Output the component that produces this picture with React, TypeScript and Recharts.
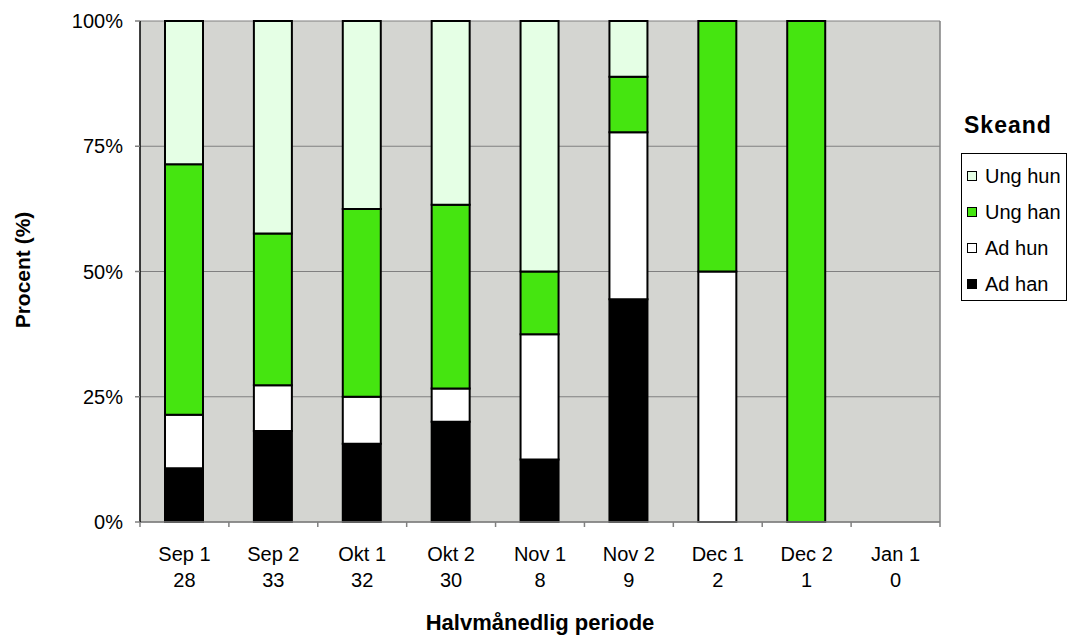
import React from 'react';
import { BarChart, Bar, XAxis, YAxis, CartesianGrid, Label } from 'recharts';

// ---- data ----
const categories = ['Sep 1', 'Sep 2', 'Okt 1', 'Okt 2', 'Nov 1', 'Nov 2', 'Dec 1', 'Dec 2', 'Jan 1'];
const counts = [28, 33, 32, 30, 8, 9, 2, 1, 0];
const adHan = [3, 6, 5, 6, 1, 4, 0, 0, 0];
const adHun = [3, 3, 3, 2, 2, 3, 1, 0, 0];
const ungHan = [14, 10, 12, 11, 1, 1, 1, 1, 0];
const ungHun = [8, 14, 12, 11, 4, 1, 0, 0, 0];
const yTicks = [0, 0.25, 0.5, 0.75, 1];

const seriesKeys = ['adHan', 'adHun', 'ungHan', 'ungHun'];
const seriesNames = ['Ad han', 'Ad hun', 'Ung han', 'Ung hun'];
const seriesColors = ['#000000', '#FFFFFF', '#45E510', '#E5FFE5'];

const data = categories.map((c, i) => ({
  name: c,
  adHan: adHan[i],
  adHun: adHun[i],
  ungHan: ungHan[i],
  ungHun: ungHun[i],
}));

// ---- layout ----
const W = 1071;
const H = 636;
const LEFT_W = 140;
const RIGHT_W = 131;
const PLOT_W = W - LEFT_W - RIGHT_W;
const FONT = '"Liberation Sans", Arial, sans-serif';

const XTick = (props: any) => {
  const { x, y, payload, index } = props;
  const band = PLOT_W / categories.length;
  return (
    <g>
      <line x1={x - band / 2} y1={y} x2={x - band / 2} y2={y + 5} stroke="#808080" strokeWidth={1.5} />
      {index === categories.length - 1 && (
        <line x1={x + band / 2} y1={y} x2={x + band / 2} y2={y + 5} stroke="#808080" strokeWidth={1.5} />
      )}
      <text x={x} y={y + 39} textAnchor="middle" fontFamily={FONT} fontSize={20} fill="#000">
        {payload.value}
      </text>
      <text x={x} y={y + 65} textAnchor="middle" fontFamily={FONT} fontSize={20} fill="#000">
        {counts[index]}
      </text>
    </g>
  );
};

const LegendBox = () => {
  const order = [3, 2, 1, 0];
  return (
    <div style={{ position: 'absolute', left: 0, top: 0, pointerEvents: 'none' }}>
      <div
        style={{
          position: 'absolute',
          left: 964,
          top: 110,
          fontFamily: FONT,
          fontWeight: 'bold',
          fontSize: 23,
          letterSpacing: 1,
          lineHeight: '30px',
          whiteSpace: 'nowrap',
        }}
      >
        Skeand
      </div>
      <div
        style={{
          position: 'absolute',
          left: 961,
          top: 153,
          width: 104,
          height: 146,
          border: '1px solid #000',
          background: '#fff',
        }}
      >
        {order.map((si, k) => (
          <div
            key={seriesKeys[si]}
            style={{
              position: 'absolute',
              left: 5,
              top: 9 + k * 36,
              height: 26,
              display: 'flex',
              alignItems: 'center',
              fontFamily: FONT,
              fontSize: 20,
              whiteSpace: 'nowrap',
            }}
          >
            <span
              style={{
                display: 'inline-block',
                width: 8,
                height: 8,
                border: '1.5px solid #000',
                background: seriesColors[si],
                marginRight: 8,
              }}
            />
            {seriesNames[si]}
          </div>
        ))}
      </div>
    </div>
  );
};

export default function App() {
  return (
    <div style={{ position: 'absolute', left: 0, top: 0, width: W, height: H, background: '#fff' }}>
      <BarChart
        width={W}
        height={H}
        data={data}
        stackOffset="expand"
        barSize={38}
        margin={{ top: 21, right: 0, bottom: 0, left: 0 }}
      >
        <CartesianGrid
          yAxisId="left"
          vertical={false}
          horizontal
          stroke="#808080"
          strokeWidth={1.2}
          fill="#D4D5D1"
          fillOpacity={1}
        />
        <XAxis
          dataKey="name"
          interval={0}
          height={114}
          tickSize={0}
          tickMargin={0}
          tickLine={false}
          axisLine={{ stroke: '#808080', strokeWidth: 1.5 }}
          tick={<XTick />}
        >
          <Label
            content={() => (
              <text x={LEFT_W + PLOT_W / 2} y={630} textAnchor="middle" fontFamily={FONT} fontWeight="bold" fontSize={22} fill="#000">
                Halvmånedlig periode
              </text>
            )}
          />
        </XAxis>
        <YAxis
          yAxisId="left"
          width={LEFT_W}
          domain={[0, 1]}
          ticks={yTicks}
          tickFormatter={(v: number) => `${Math.round(v * 100)}%`}
          tickSize={5}
          tickMargin={12}
          tickLine={{ stroke: '#808080', strokeWidth: 1.5 }}
          axisLine={{ stroke: '#000', strokeWidth: 1.5 }}
          tick={{ fontFamily: FONT, fontSize: 20, fill: '#000' }}
        >
          <Label
            content={() => (
              <text
                x={30}
                y={270}
                transform="rotate(-90 30 270)"
                textAnchor="middle"
                fontFamily={FONT}
                fontWeight="bold"
                fontSize={21}
                fill="#000"
              >
                Procent (%)
              </text>
            )}
          />
        </YAxis>
        <YAxis
          yAxisId="right"
          orientation="right"
          width={RIGHT_W}
          tick={false}
          tickLine={false}
          axisLine={{ stroke: '#808080', strokeWidth: 1.5 }}
        />
        {seriesKeys.map((k, i) => (
          <Bar
            key={k}
            dataKey={k}
            name={seriesNames[i]}
            stackId="a"
            yAxisId="left"
            fill={seriesColors[i]}
            stroke="#000"
            strokeWidth={2}
            isAnimationActive={false}
          />
        ))}
      </BarChart>
      <LegendBox />
    </div>
  );
}
